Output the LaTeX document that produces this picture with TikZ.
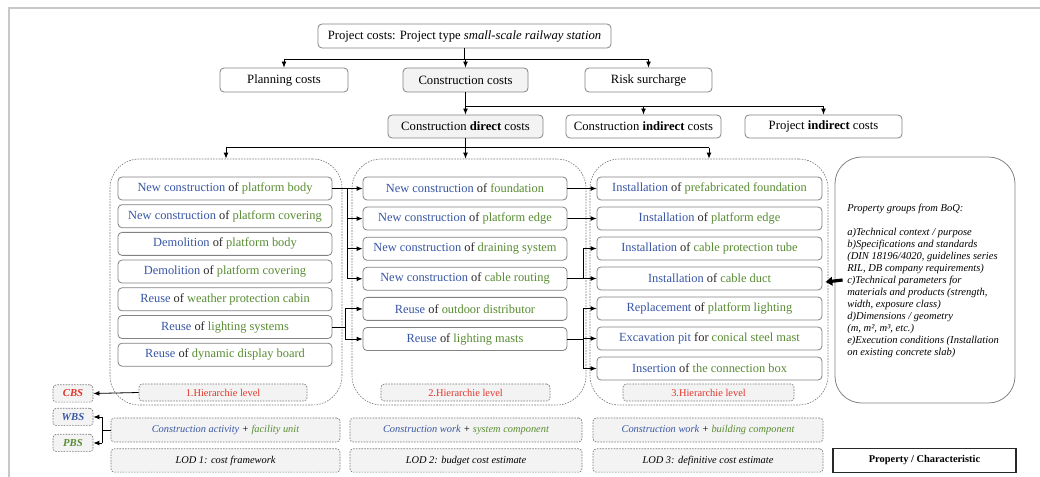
\documentclass[tikz,border=0pt]{standalone}
\usepackage{fontspec}
\setmainfont{Liberation Serif}
\usetikzlibrary{arrows.meta}

\definecolor{actblue}{RGB}{56,86,164}
\definecolor{objgreen}{RGB}{88,140,50}
\definecolor{lvlred}{RGB}{226,52,42}
\definecolor{ofgray}{RGB}{40,40,40}
\definecolor{boxline}{RGB}{130,130,130}
\definecolor{dashline}{RGB}{120,120,120}
\definecolor{softgray}{RGB}{243,243,243}
\definecolor{framegray}{RGB}{200,200,200}

% work item: activity (blue) + connector word + object (green)
\newcommand{\wrk}[3]{\textcolor{actblue}{#1} \textcolor{ofgray}{#2} \textcolor{objgreen}{#3}}

\begin{document}
\begin{tikzpicture}[x=0.75pt,y=-0.75pt,
  costbox/.style={draw=boxline, rounded corners=3pt, line width=0.6pt, fill=white,
    inner sep=0pt, font=\fontsize{9.5}{11}\selectfont},
  graybox/.style={costbox, fill=softgray},
  itembox/.style={draw=boxline, rounded corners=3pt, line width=0.6pt, fill=white,
    inner sep=0pt, minimum height=17.25pt, font=\fontsize{9.3}{11}\selectfont},
  colL/.style={itembox, minimum width=160.5pt},
  colM/.style={itembox, minimum width=153pt},
  colR/.style={itembox, minimum width=168.75pt},
  regionbox/.style={draw=dashline, dash pattern=on 1.2pt off 0.9pt, line width=0.45pt,
    rounded corners=22pt, inner sep=0pt, minimum height=184.5pt},
  lvlbox/.style={draw=dashline, dash pattern=on 1.2pt off 0.9pt, line width=0.5pt,
    rounded corners=2.5pt, fill=softgray, inner sep=0pt, minimum height=12.75pt,
    text=lvlred, font=\fontsize{7.8}{9}\selectfont},
  tagbox/.style={draw=dashline, dash pattern=on 1.2pt off 0.9pt, line width=0.5pt,
    rounded corners=2.5pt, fill=softgray, inner sep=0pt, minimum width=30pt,
    minimum height=13pt, font=\fontsize{8}{9}\selectfont\bfseries\itshape},
  notebox/.style={draw=dashline, dash pattern=on 1.2pt off 0.9pt, line width=0.5pt,
    rounded corners=2.5pt, fill=softgray, inner sep=0pt, minimum height=17.5pt,
    font=\fontsize{7.8}{9}\selectfont\itshape},
  wire/.style={line width=0.6pt},
  link/.style={wire, -{Latex[length=4.5pt,width=3.6pt]}},
  bigarrow/.style={line width=2.4pt, -{Triangle[length=5pt,width=6.5pt]}}
]
\useasboundingbox (0,0) rectangle (1040,477);

% outer frame
\draw[framegray, line width=1.2pt] (9,477) -- (9,8) -- (1040,8);

% cost hierarchy
\node[costbox, minimum width=219.75pt, minimum height=18pt] (top) at (464.5,36)
  {Project costs: Project type \textit{small-scale railway station}};

\node[costbox, minimum width=96pt, minimum height=18pt] (plan) at (284,80) {Planning costs};
\node[graybox, minimum width=93.75pt, minimum height=18pt] (ccost) at (465.5,80) {Construction costs};
\node[costbox, minimum width=95.25pt, minimum height=18pt] (risk) at (648.5,80) {Risk surcharge};

\node[graybox, minimum width=116.25pt, minimum height=17.25pt] (cdir) at (465.5,126.5) {Construction \textbf{direct} costs};
\node[costbox, minimum width=116.25pt, minimum height=17.25pt] (cind) at (643.5,126.5) {Construction \textbf{indirect} costs};
\node[costbox, minimum width=117.75pt, minimum height=17.25pt] (pind) at (823.5,126.5) {Project \textbf{indirect} costs};

\draw[wire] (top.south) -- ++(0,11) coordinate (j1);
\draw[wire] (plan.north |- j1) -- (risk.north |- j1);
\draw[link] (plan.north |- j1) -- (plan.north);
\draw[link] (ccost.north |- j1) -- (ccost.north);
\draw[link] (risk.north |- j1) -- (risk.north);

\draw[wire] (ccost.south) -- ++(0,14) coordinate (j2);
\draw[wire] (j2) -- (pind.north |- j2);
\draw[link] (cdir.north |- j2) -- (cdir.north);
\draw[link] (cind.north |- j2) -- (cind.north);
\draw[link] (pind.north |- j2) -- (pind.north);

% hierarchy regions
\node[regionbox, minimum width=174pt] (regL) at (226,282) {};
\node[regionbox, minimum width=175.5pt] (regM) at (469,282) {};
\node[regionbox, minimum width=178.5pt] (regR) at (709,282) {};

\draw[wire] (cdir.south) -- ++(0,9.5) coordinate (j3);
\draw[wire] (regL.north |- j3) -- (regR.north |- j3);
\draw[link] (regL.north |- j3) -- (regL.north);
\draw[link] (j3) -- (j3 |- regM.north);
\draw[link] (regR.north |- j3) -- (regR.north);

% level 1
\node[colL] (L1) at (225,188.5) {\wrk{New construction}{of}{platform body}};
\node[colL] (L2) at (225,216.2) {\wrk{New construction}{of}{platform covering}};
\node[colL] (L3) at (225,243.9) {\wrk{Demolition}{of}{platform body}};
\node[colL] (L4) at (225,271.6) {\wrk{Demolition}{of}{platform covering}};
\node[colL] (L5) at (225,299.3) {\wrk{Reuse}{of}{weather protection cabin}};
\node[colL] (L6) at (225,327)   {\wrk{Reuse}{of}{lighting systems}};
\node[colL] (L7) at (225,354.7) {\wrk{Reuse}{of}{dynamic display board}};

% level 2
\node[colM] (M1) at (465,188.5) {\wrk{New construction}{of}{foundation}};
\node[colM] (M2) at (465,218.6) {\wrk{New construction}{of}{platform edge}};
\node[colM] (M3) at (465,248.7) {\wrk{New construction}{of}{draining system}};
\node[colM] (M4) at (465,278.8) {\wrk{New construction}{of}{cable routing}};
\node[colM] (M5) at (465,308.9) {\wrk{Reuse}{of}{outdoor distributor}};
\node[colM] (M6) at (465,339)   {\wrk{Reuse}{of}{lighting masts}};

% level 3
\node[colR] (R1) at (709.5,188.5) {\wrk{Installation}{of}{prefabricated foundation}};
\node[colR] (R2) at (709.5,218.5) {\wrk{Installation}{of}{platform edge}};
\node[colR] (R3) at (709.5,248.5) {\wrk{Installation}{of}{cable protection tube}};
\node[colR] (R4) at (709.5,278.5) {\wrk{Installation}{of}{cable duct}};
\node[colR] (R5) at (709.5,308.5) {\wrk{Replacement}{of}{platform lighting}};
\node[colR] (R6) at (709.5,338.5) {\wrk{Excavation pit}{for}{conical steel mast}};
\node[colR] (R7) at (709.5,368.5) {\wrk{Insertion}{of}{the connection box}};

% level labels
\node[lvlbox, minimum width=126pt] (H1) at (223,392.5) {1.Hierarchie level};
\node[lvlbox, minimum width=126.75pt] (H2) at (465.5,392.5) {2.Hierarchie level};
\node[lvlbox, minimum width=128.25pt] (H3) at (708.5,392.5) {3.Hierarchie level};

% links level 1 -> level 2
\coordinate (busA) at (347,0);
\draw[wire] (L1.east) -- (busA |- L1.east);
\draw[wire] (busA |- M1.west) -- (busA |- M4.west);
\foreach \m in {M1,M2,M3,M4} \draw[link] (busA |- \m.west) -- (\m.west);
\coordinate (busB) at (345,0);
\draw[wire] (L6.east) -- (busB |- L6.east);
\draw[wire] (busB |- M5.west) -- (busB |- M6.west);
\foreach \m in {M5,M6} \draw[link] (busB |- \m.west) -- (\m.west);

% links level 2 -> level 3
\draw[link] (M1.east) -- (R1.west);
\draw[link] (M2.east) -- (R2.west);
\coordinate (busC) at (583,0);
\draw[wire] (M4.east) -- (busC |- M4.east);
\draw[wire] (busC |- R3.west) -- (busC |- R4.west);
\foreach \r in {R3,R4} \draw[link] (busC |- \r.west) -- (\r.west);
\draw[wire] (M6.east) -- (busC |- M6.east);
\draw[wire] (busC |- R5.west) -- (busC |- R7.west);
\foreach \r in {R5,R6,R7} \draw[link] (busC |- \r.west) -- (\r.west);

% property groups
\node[draw=boxline, line width=0.6pt, rounded corners=20pt, minimum width=135pt,
  minimum height=184.5pt, inner sep=0pt] (prop) at (925,280) {};
\node[anchor=north west, inner sep=0pt, align=left,
  font=\fontsize{7.9}{9}\selectfont\itshape] (proptext) at (847,204)
  {Property groups from BoQ:\\[9pt]
   a)Technical context / purpose\\
   b)Specifications and standards\\
   (DIN 18196/4020, guidelines series\\
   RIL, DB company requirements)\\
   c)Technical parameters for\\
   materials and products (strength,\\
   width, exposure class)\\
   d)Dimensions / geometry\\
   (m, m², m³, etc.)\\
   e)Execution conditions (Installation\\
   on existing concrete slab)};
\draw[bigarrow] ([xshift=6pt]prop.west) -- ([xshift=-2pt]regR.east);

% structure tags
\node[tagbox, text=lvlred] (cbs) at (73,393.5) {CBS};
\node[tagbox, text=actblue] (wbs) at (73,417) {WBS};
\node[tagbox, text=objgreen] (pbs) at (73,443) {PBS};
\draw[link] (H1.west) -- (cbs.east);

% detail rows
\node[notebox, minimum width=171.75pt, minimum height=18pt] (A1) at (225.5,430)
  {\textcolor{actblue}{Construction activity} + \textcolor{objgreen}{facility unit}};
\node[notebox, minimum width=174pt, minimum height=18pt] (A2) at (466,430)
  {\textcolor{actblue}{Construction work} + \textcolor{objgreen}{system component}};
\node[notebox, minimum width=172.5pt, minimum height=18pt] (A3) at (708,430)
  {\textcolor{actblue}{Construction work} + \textcolor{objgreen}{building component}};
\node[notebox, minimum width=171.75pt] (D1) at (225.5,460.5) {LOD 1: cost framework};
\node[notebox, minimum width=174pt] (D2) at (466,460.5) {LOD 2: budget cost estimate};
\node[notebox, minimum width=172.5pt] (D3) at (708,460.5) {LOD 3: definitive cost estimate};
\node[draw=ofgray, line width=0.8pt, fill=white, inner sep=0pt, minimum width=137.25pt,
  minimum height=17.5pt, font=\fontsize{7.8}{9}\selectfont\bfseries] (pc) at (924.5,460.5)
  {Property / Characteristic};

\coordinate (busD) at (102,0);
\draw[wire] (A1.west) -- (busD |- A1.west);
\draw[wire] (busD |- wbs.east) -- (busD |- pbs.east);
\draw[link] (busD |- wbs.east) -- (wbs.east);
\draw[link] (busD |- pbs.east) -- (pbs.east);
\end{tikzpicture}
\end{document}
